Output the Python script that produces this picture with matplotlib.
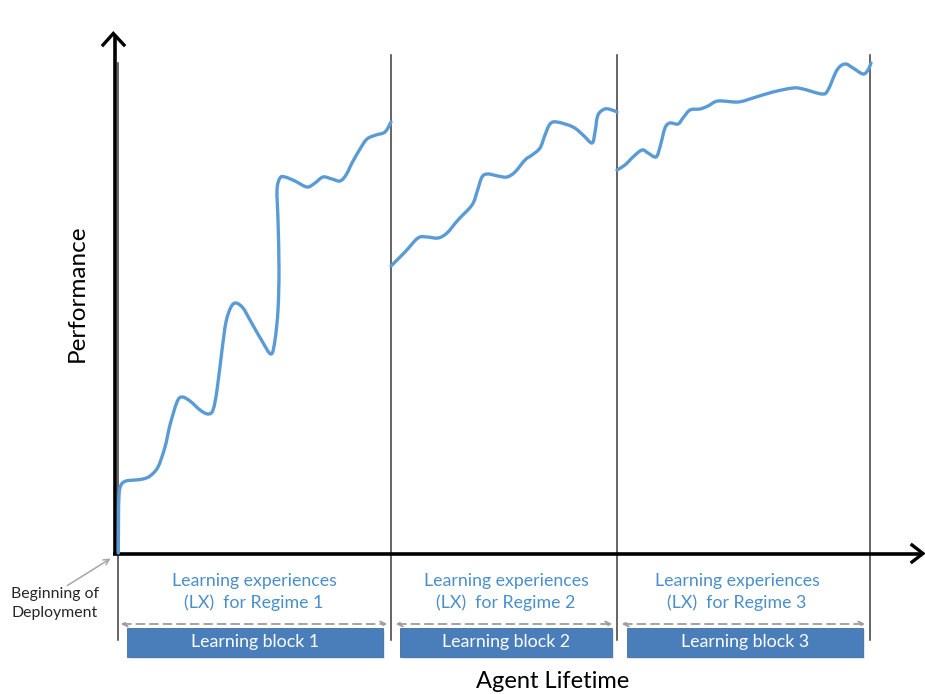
import numpy as np
import matplotlib
matplotlib.use("Agg")
import matplotlib.pyplot as plt
from matplotlib.patches import FancyArrowPatch, Rectangle, PathPatch
from matplotlib.path import Path

plt.rcParams['font.family'] = ['Lato', 'DejaVu Sans']

# ---- data (agent lifetime, performance) ----
block1_x = [1.3, 1.5, 2, 4, 9, 18, 26, 33, 41, 48, 53, 60, 65, 73, 83, 91, 96, 100, 105, 109, 114, 119,
            126, 133, 145, 154, 158, 161, 162, 161, 160, 163, 168, 178, 190, 198, 206, 215, 223, 229,
            235, 243, 250, 259, 268, 274]
block1_y = [2, 35, 60, 70, 74, 75, 76, 79, 88, 108, 130, 153, 158, 154, 145, 141, 145, 165, 205, 233, 248,
            252, 247, 235, 214, 201, 215, 245, 285, 335, 365, 377, 378, 374, 368, 372, 378, 376, 374, 380,
            392, 406, 416, 420, 423, 433]

block2_x = [274, 288, 301, 310, 321, 330, 341, 355, 360, 365, 371, 381, 390, 398, 408, 415, 423, 428, 433,
            440, 456, 466, 475, 478, 481, 488, 495, 500]
block2_y = [289, 303, 317, 318, 317, 322, 335, 350, 363, 378, 381, 379, 378, 383, 395, 400, 407, 420, 431,
            433, 428, 420, 412, 423, 440, 446, 445, 443]

block3_x = [500, 508, 516, 525, 531, 539, 543, 548, 553, 561, 566, 573, 583, 591, 601, 621, 636, 656, 676,
            686, 705, 711, 720, 728, 736, 746, 751, 754]
block3_y = [385, 390, 398, 405, 402, 398, 408, 427, 432, 431, 437, 445, 446, 449, 454, 453, 457, 463, 467,
            466, 461, 465, 485, 491, 487, 481, 485, 492]

boundaries = [0.5, 274, 500, 753]
regime_labels = ["Learning experiences\n(LX)  for Regime 1",
                 "Learning experiences\n(LX)  for Regime 2",
                 "Learning experiences\n(LX)  for Regime 3"]
regime_centers = [137, 389, 620]
block_labels = ["Learning block 1", "Learning block 2", "Learning block 3"]
block_spans = [(10, 266), (283, 495), (510, 746)]
lx_spans = [(1, 273), (276, 498), (502, 751)]


def smooth_path(xs, ys):
    """Bezier path passing through every given point (Catmull-Rom tangents)."""
    p = np.column_stack([xs, ys]).astype(float)
    verts = [p[0]]
    codes = [Path.MOVETO]
    n = len(p)
    for i in range(n - 1):
        p0 = p[i - 1] if i > 0 else p[i]
        p1, p2 = p[i], p[i + 1]
        p3 = p[i + 2] if i + 2 < n else p[i + 1]
        c1 = p1 + (p2 - p0) / 6.0
        c2 = p2 - (p3 - p1) / 6.0
        verts += [c1, c2, p2]
        codes += [Path.CURVE4] * 3
    return Path(verts, codes)


# ---- figure ----
fig = plt.figure(figsize=(9.25, 6.94), dpi=100)
ax = fig.add_axes([0, 0, 1, 1])
ax.set_xlim(-117, 808)
ax.set_ylim(-139, 555)
ax.axis('off')

curve_color = '#5B9BD5'
for xs, ys in [(block1_x, block1_y), (block2_x, block2_y), (block3_x, block3_y)]:
    ax.add_patch(PathPatch(smooth_path(xs, ys), facecolor='none', edgecolor=curve_color, lw=2.4,
                           joinstyle='round', capstyle='round', zorder=4))

# boundary lines
for i, b in enumerate(boundaries):
    top = 492 if i == 0 else 500
    ax.plot([b, b], [-85, top], color='#3a3a3a', lw=1.1, zorder=2)

# axes with open arrowheads
ax.plot([-2.5, -2.5], [0, 520], color='black', lw=2.6, solid_capstyle='butt', zorder=3)
ax.plot([-14, -3.7, 7], [510, 521.5, 510], color='black', lw=2.4, solid_joinstyle='miter', zorder=3)
ax.plot([-3.8, 805], [1.2, 1.2], color='black', lw=2.6, solid_capstyle='butt', zorder=3)
ax.plot([795, 806, 795], [10, 1.5, -7], color='black', lw=2.4, solid_joinstyle='miter', zorder=3)

# axis titles
ax.text(-40, 262, "Performance", rotation=90, ha='center', va='center', fontsize=17.5, color='black')
ax.text(436, -126, "Agent Lifetime", ha='center', va='center', fontsize=17, color='black')

# regime labels
for lab, cx in zip(regime_labels, regime_centers):
    ax.text(cx, -37, lab, ha='center', va='center', fontsize=12.8, color='#4A8FCC', linespacing=1.4)

# dashed double arrows
for x0, x1 in lx_spans:
    arr = FancyArrowPatch((x0, -69), (x1, -69), arrowstyle='<->', mutation_scale=9,
                          color='#9C9C9C', lw=1.3, linestyle=(0, (4.5, 3)), zorder=3)
    ax.add_patch(arr)

# learning block boxes
for (x0, x1), lab in zip(block_spans, block_labels):
    ax.add_patch(Rectangle((x0 + 1.5, -104), x1 - x0, 29, facecolor='#dfe6ef', edgecolor='none', zorder=2))
    ax.add_patch(Rectangle((x0, -102), x1 - x0, 29, facecolor='#4A7EBB', edgecolor='#41709f', lw=0.6, zorder=3))
    ax.text((x0 + x1) / 2, -87.5, lab, ha='center', va='center', fontsize=12.8, color='white', zorder=4)

# beginning of deployment
ax.text(-62, -48.5, "Beginning of\nDeployment", ha='center', va='center', fontsize=11.4,
        color='#262626', linespacing=1.4)
ax.annotate("", xy=(-4, -2), xytext=(-52, -32),
            arrowprops=dict(arrowstyle='->', color='#A6A6A6', lw=1.1, mutation_scale=10))

fig.savefig("out.png", dpi=100, facecolor='white')
